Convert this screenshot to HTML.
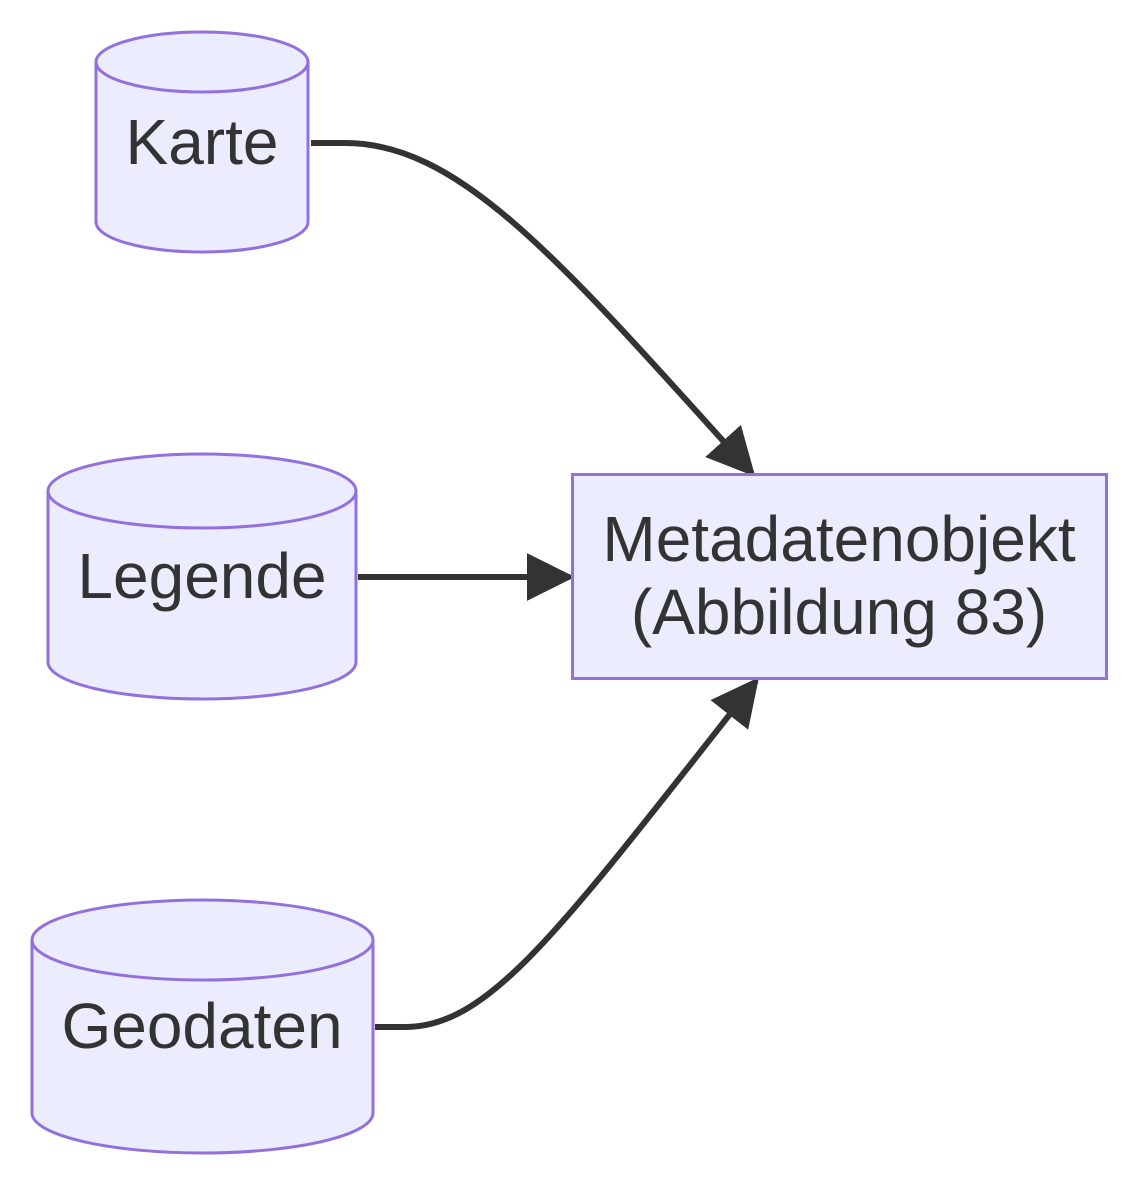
<!DOCTYPE html>
<html><head><meta charset="utf-8"><style>
html,body{margin:0;padding:0;background:#fff;}
svg{display:block;}
text{font-family:"Liberation Sans",Arial,sans-serif;fill:#333;font-size:64px;text-anchor:middle;}
</style></head><body>
<svg width="1136" height="1184" viewBox="0 0 1136 1184" xmlns="http://www.w3.org/2000/svg">
<defs>
<marker id="ah" viewBox="0 0 10 10" refX="9" refY="5" markerUnits="userSpaceOnUse" markerWidth="48" markerHeight="48" orient="auto">
<path d="M0,0 L10,5 L0,10 z" fill="#333"/>
</marker>
</defs>
<path d="M311,143 L345,143 C460,143 560,260 752,473" fill="none" stroke="#333" stroke-width="6" marker-end="url(#ah)"/>
<path d="M358,577 L570,577" fill="none" stroke="#333" stroke-width="6" marker-end="url(#ah)"/>
<path d="M375,1027 L405,1027 C490,1027 560,930 756,681" fill="none" stroke="#333" stroke-width="6" marker-end="url(#ah)"/>
<g fill="#ECECFF" stroke="#9370DB" stroke-width="3">
<path d="M96,62 A106,30 0 0 1 308,62 L308,222 A106,30 0 0 1 96,222 Z"/>
<path d="M96,62 A106,30 0 0 0 308,62" fill="none"/>
<path d="M48,491 A154,37 0 0 1 356,491 L356,662 A154,37 0 0 1 48,662 Z"/>
<path d="M48,491 A154,37 0 0 0 356,491" fill="none"/>
<path d="M32,940 A170.5,40 0 0 1 373,940 L373,1113 A170.5,40 0 0 1 32,1113 Z"/>
<path d="M32,940 A170.5,40 0 0 0 373,940" fill="none"/>
<rect x="572.5" y="474.5" width="534" height="204"/>
</g>
<text x="202" y="164">Karte</text>
<text x="202" y="598">Legende</text>
<text x="202" y="1048">Geodaten</text>
<text x="839" y="561">Metadatenobjekt</text>
<text x="839" y="634">(Abbildung 83)</text>
</svg>
</body></html>
